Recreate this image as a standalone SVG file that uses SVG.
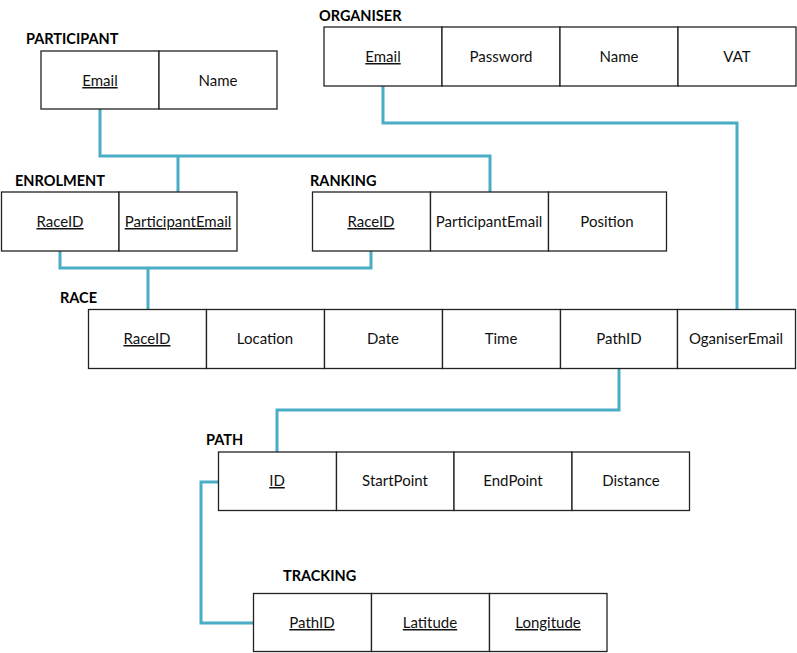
<svg xmlns="http://www.w3.org/2000/svg" width="797" height="653" viewBox="0 0 797 653">
<style>
.cell{fill:#fff;stroke:#222;stroke-width:1.3}
.t{font-family:Lato,"Open Sans","Liberation Sans",sans-serif;font-size:15px;fill:#111;text-anchor:middle}
.u{text-decoration:underline}
.h{font-family:Lato,"Open Sans","Liberation Sans",sans-serif;font-size:14.5px;font-weight:bold;fill:#000}
.c{fill:none;stroke:#4BACC6;stroke-width:3}
</style>
<rect width="797" height="653" fill="#fff"/>
<g id="connectors">
<path class="c" d="M100,109 V156 H490 V192 M178,156 V192"/>
<path class="c" d="M383,86 V123 H737 V310"/>
<path class="c" d="M60,251 V268 H371 V251 M148,268 V310"/>
<path class="c" d="M619,368 V410 H277 V452"/>
<path class="c" d="M218,482 H201 V623 H253"/>
</g>
<g id="participant">
<text class="h" x="26" y="44">PARTICIPANT</text>
<rect class="cell" x="41" y="51" width="118" height="58"/>
<rect class="cell" x="159" y="51" width="118" height="58"/>
<text class="t u" x="100" y="86">Email</text>
<text class="t" x="218" y="86">Name</text>
</g>
<g id="organiser">
<text class="h" x="319" y="21">ORGANISER</text>
<rect class="cell" x="324" y="27" width="118" height="59"/>
<rect class="cell" x="442" y="27" width="118" height="59"/>
<rect class="cell" x="560" y="27" width="118" height="59"/>
<rect class="cell" x="678" y="27" width="118" height="59"/>
<text class="t u" x="383" y="62">Email</text>
<text class="t" x="501" y="62">Password</text>
<text class="t" x="619" y="62">Name</text>
<text class="t" x="737" y="62">VAT</text>
</g>
<g id="enrolment">
<text class="h" x="15" y="186">ENROLMENT</text>
<rect class="cell" x="1.5" y="192" width="117.5" height="59"/>
<rect class="cell" x="119" y="192" width="118" height="59"/>
<text class="t u" x="60" y="227">RaceID</text>
<text class="t u" x="178" y="227">ParticipantEmail</text>
</g>
<g id="ranking">
<text class="h" x="310" y="186">RANKING</text>
<rect class="cell" x="312.5" y="192" width="118" height="59"/>
<rect class="cell" x="430.5" y="192" width="118" height="59"/>
<rect class="cell" x="548.5" y="192" width="118" height="59"/>
<text class="t u" x="371" y="227">RaceID</text>
<text class="t" x="489" y="227">ParticipantEmail</text>
<text class="t" x="607" y="227">Position</text>
</g>
<g id="race">
<text class="h" x="60" y="303">RACE</text>
<rect class="cell" x="88.5" y="309.5" width="118" height="59"/>
<rect class="cell" x="206.5" y="309.5" width="118" height="59"/>
<rect class="cell" x="324.5" y="309.5" width="118" height="59"/>
<rect class="cell" x="442.5" y="309.5" width="118" height="59"/>
<rect class="cell" x="560.5" y="309.5" width="117" height="59"/>
<rect class="cell" x="677.5" y="309.5" width="118" height="59"/>
<text class="t u" x="147" y="344">RaceID</text>
<text class="t" x="265" y="344">Location</text>
<text class="t" x="383" y="344">Date</text>
<text class="t" x="501" y="344">Time</text>
<text class="t" x="619" y="344">PathID</text>
<text class="t" x="736" y="344">OganiserEmail</text>
</g>
<g id="path">
<text class="h" x="206" y="445">PATH</text>
<rect class="cell" x="218.5" y="452" width="118" height="58.5"/>
<rect class="cell" x="336.5" y="452" width="117.5" height="58.5"/>
<rect class="cell" x="454" y="452" width="118" height="58.5"/>
<rect class="cell" x="572" y="452" width="117.5" height="58.5"/>
<text class="t u" x="277" y="486">ID</text>
<text class="t" x="395" y="486">StartPoint</text>
<text class="t" x="513" y="486">EndPoint</text>
<text class="t" x="631" y="486">Distance</text>
</g>
<g id="tracking">
<text class="h" x="283" y="581">TRACKING</text>
<rect class="cell" x="253.5" y="593.5" width="118" height="58"/>
<rect class="cell" x="371.5" y="593.5" width="118" height="58"/>
<rect class="cell" x="489.5" y="593.5" width="117.5" height="58"/>
<text class="t u" x="312" y="628">PathID</text>
<text class="t u" x="430" y="628">Latitude</text>
<text class="t u" x="548" y="628">Longitude</text>
</g>
</svg>
